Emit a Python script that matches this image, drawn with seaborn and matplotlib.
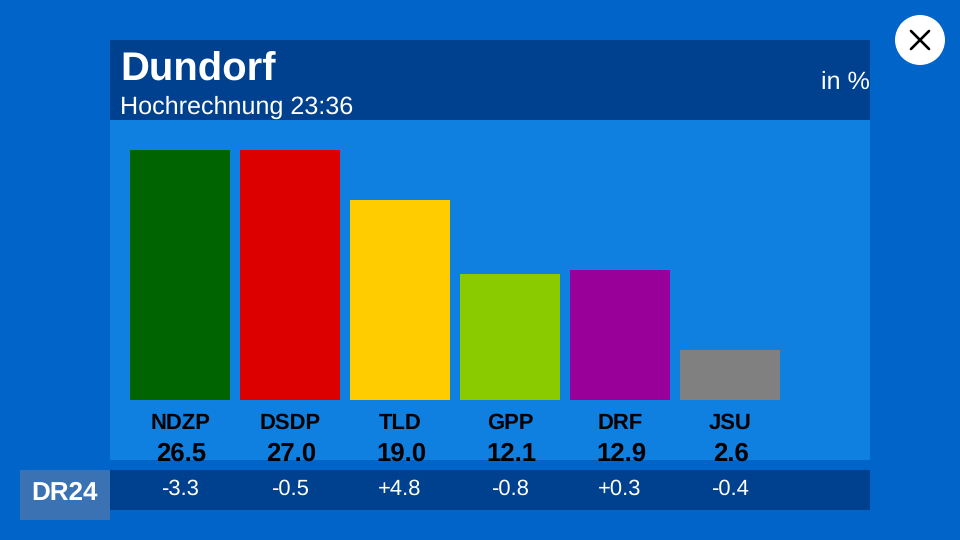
import matplotlib.pyplot as plt
from matplotlib.patches import Circle, Rectangle
import pandas as pd
import seaborn as sns

# values as printed under the bars
parties = ["NDZP", "DSDP", "TLD", "GPP", "DRF", "JSU"]
results = ["26.5", "27.0", "19.0", "12.1", "12.9", "2.6"]
changes = ["-3.3", "-0.5", "+4.8", "-0.8", "+0.3", "-0.4"]
# bar heights as drawn, these do not follow the printed numbers exactly
bar_heights = [25.0, 25.0, 20.0, 12.6, 13.0, 5.0]
bar_colors = ["#006400", "#DC0000", "#FFCC00", "#8ACB00", "#990099", "#808080"]

plt.rcParams["font.family"] = ["Liberation Sans", "DejaVu Sans"]
plt.rcParams["text.hinting"] = "no_hinting"
plt.rcParams["text.hinting_factor"] = 8
plt.rcParams["text.kerning_factor"] = 6
df = pd.DataFrame({"party": parties, "height": bar_heights})

fig = plt.figure(figsize=(9.6, 5.4), dpi=100, facecolor="#0064C8")

# %% background boxes, in pixels
bg = fig.add_axes([0, 0, 1, 1])
bg.set_xlim(0, 960)
bg.set_ylim(540, 0)
bg.axis("off")
bg.add_patch(Rectangle((110, 120), 760, 340, color="#1080E0", lw=0))
bg.add_patch(Rectangle((110, 40), 760, 80, color="#00418F", lw=0))
bg.add_patch(Rectangle((110, 470), 760, 40, color="#00418F", lw=0))
bg.add_patch(Rectangle((20, 470), 90, 50, color="#3A72B4", lw=0))
bg.add_patch(Circle((920, 40), 25, color="white", lw=0))
bg.plot([911, 929], [31, 49], color="black", lw=1.9, solid_capstyle="round")
bg.plot([911, 929], [49, 31], color="black", lw=1.9, solid_capstyle="round")

bg.text(120, 70, "Dundorf", color="white", fontsize=28.8, fontweight="bold", va="center")
bg.text(120, 107, "Hochrechnung 23:36", color="white", fontsize=18.1, va="center")
bg.text(869.5, 82, "in %", color="white", fontsize=18.1, ha="right", va="center")
bg.text(65, 493, "DR24", color="white", fontsize=18.7, fontweight="bold", ha="center", va="center")

# %% bars
ax = fig.add_axes([125 / 960, 140 / 540, 660 / 960, 250 / 540])
ax.patch.set_alpha(0)
sns.barplot(
    data=df, x="party", y="height", hue="party", palette=bar_colors,
    width=100 / 110, saturation=1, legend=False, ax=ax,
)
ax.set_xlim(-0.5, 5.5)
ax.set_ylim(0, 25)
ax.set_xlabel("")
ax.set_ylabel("")
ax.set_yticks([])
sns.despine(ax=ax, left=True, bottom=True)
ax.tick_params(axis="x", length=0, pad=9.5)
for label in ax.get_xticklabels():
    label.set_fontsize(15.8)
    label.set_fontweight("bold")
    label.set_color("black")

# %% numbers under the bars
for i, (res, chg) in enumerate(zip(results, changes)):
    ax.text(i + 0.01, -5.4, res, ha="center", va="center", fontsize=18.5,
            fontweight="bold", color="black", clip_on=False)
    ax.text(i, -8.9, chg, ha="center", va="center", fontsize=15.8,
            color="white", clip_on=False)

plt.savefig("out.png", dpi=100, facecolor=fig.get_facecolor())
